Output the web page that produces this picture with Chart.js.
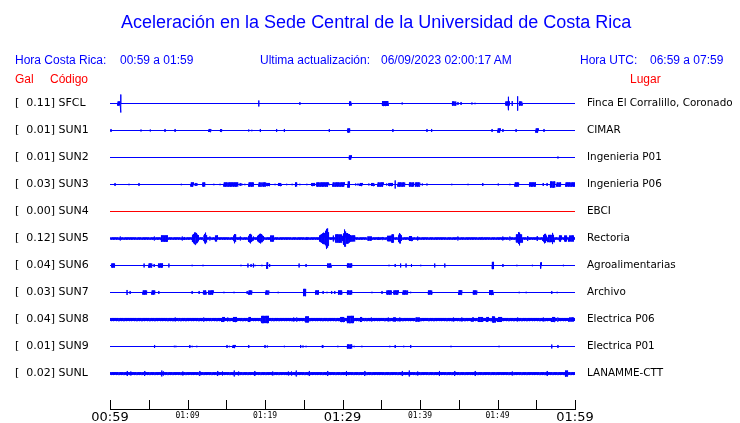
<!DOCTYPE html>
<html>
<head>
<meta charset="utf-8">
<script src="https://cdn.jsdelivr.net/npm/chart.js@4/dist/chart.umd.min.js"></script>
<style>
  body { margin: 0; background: #fff; }
  #wrap { position: relative; width: 740px; height: 423px; }
  canvas { display: block; }
  .t { position: absolute; white-space: pre; font-family: "Liberation Sans", Arial, sans-serif; }
  .blue { color: #0000ff; }
  .red { color: #ff0000; }
  .hd { font-size: 12px; line-height: 14px; }
</style>
</head>
<body>
<div id="wrap">
  <canvas id="myChart" width="740" height="423"></canvas>
  <div class="t blue" style="left:121px;top:12px;font-size:18px;line-height:20px;">Aceleración en la Sede Central de la Universidad de Costa Rica</div>
  <div class="t blue hd" style="left:15px;top:53px;">Hora Costa Rica:</div>
  <div class="t blue hd" style="left:120px;top:53px;">00:59 a 01:59</div>
  <div class="t blue hd" style="left:260px;top:53px;">Ultima actualización:</div>
  <div class="t blue hd" style="left:381px;top:53px;">06/09/2023 02:00:17 AM</div>
  <div class="t blue hd" style="left:580px;top:53px;">Hora UTC:</div>
  <div class="t blue hd" style="left:650px;top:53px;">06:59 a 07:59</div>
  <div class="t red hd" style="left:15px;top:72px;">Gal</div>
  <div class="t red hd" style="left:50px;top:72px;">Código</div>
  <div class="t red hd" style="left:630px;top:72px;">Lugar</div>
</div>
<script>
// station info
const codes  = ['SFCL','SUN1','SUN2','SUN3','SUN4','SUN5','SUN6','SUN7','SUN8','SUN9','SUNL'];
const peaks  = [0.11, 0.01, 0.01, 0.03, 0.00, 0.12, 0.04, 0.03, 0.04, 0.01, 0.02];
const places = ['Finca El Corralillo, Coronado','CIMAR','Ingenieria P01','Ingenieria P06','EBCI','Rectoria',
                'Agroalimentarias','Archivo','Electrica P06','Electrica P01','LANAMME-CTT'];
const timeLabels = ['00:59','01:09','01:19','01:29','01:39','01:49','01:59'];
// background noise (Gal, half width of the band)
const baseNoise = [0, 0, 0, 0, 0, 0.011, 0, 0, 0.017, 0, 0.014];

// events: [minute after 00:59, amplitude Gal, duration minutes]
const sfcl = [[1.4,.1,0],[1.2,.022,.4],[19.2,.033,0],[24.5,.015,0],[31.0,.022,.25],[35.5,.027,.8],[37.7,.011,0],
  [44.4,.022,.5],[44.9,.017,0],[45.3,.017,0],[46.7,.011,0],[47.1,.008,0],[51.4,.075,0],[51.3,.022,.5],
  [51.9,.027,0],[52.6,.08,0],[53.0,.022,.4]];
const sun1 = [[0.13,.017,0],[4.0,.011,0],[5.2,.011,0],[7.1,.017,0],[8.4,.017,0],[12.9,.017,.3],[14.3,.015,.2],
  [17.9,.011,0],[18.3,.008,0],[19.4,.017,0],[21.5,.017,0],[22.5,.017,0],[28.3,.017,0],[30.8,.022,.3],
  [36.5,.017,0],[40.9,.017,0],[41.5,.017,0],[49.3,.017,0],[50.2,.022,.3],[50.7,.017,0],[52.4,.017,0],
  [55.1,.022,.3],[56.0,.017,0]];
const sun2 = [[31.0,.022,.3],[57.8,.011,0]];
const sun3 = [[0.65,.017,0],[2.45,.008,0],[3.74,.017,0],[9.2,.008,0],[10.6,.022,.3],[11.0,.017,0],[11.2,.017,0],
  [12.1,.022,.3],[13.4,.008,0],[14.2,.008,0],[15.6,.022,1.8],[16.8,.017,0],[17.0,.011,0],[17.4,.008,0],
  [18.2,.022,.6],[19.4,.022,.4],[19.9,.022,.4],[20.4,.017,.4],[21.3,.008,0],[21.9,.017,.4],[22.8,.008,0],
  [23.5,.008,0],[24.0,.022,.2],[24.5,.008,0],[25.4,.008,0],[26.2,.017,.4],[27.4,.022,1.5],[28.3,.008,0],
  [29.5,.022,1.5],[30.8,.033,.2],[31.7,.011,0],[32.0,.011,0],[32.4,.017,.3],[33.4,.011,0],[33.9,.017,.4],
  [34.9,.022,.7],[35.7,.011,0],[36.2,.017,.5],[36.8,.045,0],[37.6,.022,.9],[38.9,.022,.6],[39.7,.022,.6],
  [40.3,.011,0],[40.9,.011,0],[44.1,.008,0],[46.2,.008,0],[48.1,.017,0],[50.1,.011,0],[51.6,.008,0],
  [52.5,.022,.5],[54.5,.022,.8],[55.9,.017,0],[56.4,.017,0],[57.1,.033,.6],[57.9,.022,.5],[59.4,.022,1.2]];
const sun4 = [];
const sun5 = [[1.3,.022,0],[5.7,.022,0],[7.0,.035,.8],[9.3,.022,0],[9.6,.017,0],[11.0,.07,.8],[12.3,.065,.4],
  [12.9,.022,0],[13.7,.033,.3],[16.1,.055,.3],[16.8,.022,0],[18.1,.055,.5],[18.5,.022,0],[19.4,.055,.8],
  [20.9,.033,.4],[25.4,.017,0],[28.0,.12,.5],[27.6,.065,1.2],[28.8,.033,0],[29.5,.045,.8],[30.3,.1,.4],
  [30.6,.06,1.2],[31.3,.033,.6],[33.5,.022,.5],[34.6,.017,0],[35.2,.017,0],[36.2,.03,.8],[36.5,.045,.3],
  [37.4,.06,.4],[38.8,.027,.4],[39.7,.022,0],[44.9,.022,0],[48.0,.017,0],[50.7,.022,0],[51.6,.022,0],
  [52.8,.08,.3],[52.8,.045,.8],[53.9,.027,0],[55.1,.027,0],[56.1,.055,.5],[57.1,.07,.2],[56.9,.04,.8],
  [58.1,.033,.3],[58.8,.033,.3],[59.5,.033,.6]];
const sun6 = [[0.4,.022,.4],[4.4,.022,0],[5.2,.022,.4],[5.7,.017,0],[6.5,.022,.6],[7.6,.022,0],[10.6,.008,0],
  [12.0,.008,0],[16.9,.008,0],[17.8,.022,0],[18.2,.017,0],[18.5,.022,0],[18.7,.008,0],[19.6,.008,0],
  [20.3,.035,.15],[20.6,.017,0],[24.4,.022,0],[25.3,.017,0],[28.3,.022,.5],[30.9,.022,.6],[36.0,.008,0],
  [36.8,.017,0],[37.5,.022,0],[38.2,.022,0],[38.9,.017,0],[40.1,.008,0],[41.9,.022,0],[43.2,.022,0],
  [49.4,.04,.2],[50.7,.017,0],[52.5,.008,0],[54.5,.008,0],[55.6,.033,.15],[58.5,.008,0]];
const sun7 = [[2.2,.028,0],[2.6,.017,0],[4.5,.022,.5],[5.6,.022,.4],[6.3,.017,0],[10.6,.017,0],[11.5,.017,0],
  [12.2,.022,.4],[13.0,.022,.6],[14.7,.008,0],[16.0,.008,0],[17.7,.017,0],[18.1,.022,.4],[20.3,.022,.4],
  [21.7,.008,0],[25.1,.04,.3],[26.7,.022,.4],[27.5,.017,0],[28.0,.008,0],[28.6,.017,0],[29.0,.017,0],
  [29.7,.022,.5],[30.9,.022,.6],[33.8,.008,0],[35.1,.017,0],[36.0,.022,.6],[36.9,.022,.6],[38.1,.022,.6],
  [38.8,.008,0],[41.3,.022,.5],[45.2,.025,.4],[47.1,.022,.5],[49.2,.027,.5],[52.8,.008,0],[53.7,.008,0],
  [57.0,.017,0],[57.7,.008,0]];
const sun8 = [[8.4,.022,0],[8.9,.011,0],[12.1,.022,0],[13.2,.011,0],[14.6,.028,.3],[15.2,.022,0],[16.1,.028,.4],
  [18.0,.028,.2],[20.0,.04,.9],[20.9,.011,0],[21.7,.011,0],[23.7,.022,0],[24.1,.022,0],[25.4,.033,.4],
  [28.6,.011,0],[30.0,.028,.5],[31.0,.04,.8],[32.4,.028,.2],[32.9,.011,0],[33.7,.022,0],[35.1,.011,0],
  [35.9,.022,0],[36.7,.022,.3],[37.4,.022,0],[39.7,.022,.5],[40.8,.011,0],[42.5,.011,0],[44.3,.022,0],
  [45.4,.022,0],[46.8,.022,.2],[47.8,.028,.6],[48.7,.028,.2],[49.5,.033,.4],[50.3,.028,.5],[52.6,.022,0],
  [54.6,.011,0],[55.9,.022,0],[57.2,.028,.4],[57.8,.022,0],[59.5,.022,.6]];
const sun9 = [[5.7,.017,0],[5.8,.011,0],[8.3,.008,0],[8.5,.008,0],[10.3,.017,0],[10.6,.008,0],[11.2,.008,0],
  [15.1,.017,0],[15.4,.008,0],[16.0,.017,.3],[17.9,.017,0],[20.0,.017,0],[20.3,.011,0],[22.5,.008,0],
  [24.6,.017,0],[24.9,.011,0],[25.3,.008,0],[27.4,.017,0],[27.5,.011,0],[29.4,.008,0],[30.9,.022,.6],
  [31.5,.008,0],[32.5,.008,0],[36.1,.008,0],[36.8,.017,0],[37.9,.008,0],[38.8,.017,0],[44.0,.008,0],
  [50.2,.008,0],[57.0,.022,0],[57.8,.017,0]];
const sunl = [[2.2,.028,0],[2.7,.022,0],[4.5,.028,0],[6.7,.033,0],[6.9,.022,0],[9.4,.022,0],[11.6,.028,0],
  [13.9,.028,0],[14.5,.022,0],[16.0,.033,0],[16.6,.022,0],[18.7,.028,0],[21.0,.022,0],[23.0,.022,0],
  [23.4,.022,0],[24.0,.033,0],[25.7,.028,0],[28.1,.028,0],[30.5,.028,0],[32.9,.028,0],[37.7,.028,0],
  [38.6,.033,0],[39.7,.022,0],[42.5,.028,0],[44.5,.028,0],[47.1,.028,0],[51.9,.022,0],[56.4,.028,0],
  [58.9,.033,.3]];
const events = [sfcl, sun1, sun2, sun3, sun4, sun5, sun6, sun7, sun8, sun9, sunl];

const spacing = 0.3;   // Gal between traces
const step = 0.04;     // minutes between zigzag points
const yMax = 0.2 + 0.5 / 90;
const yMin = yMax - 3.6;

function buildTrace(i) {
  const c = -spacing * i;
  const base = baseNoise[i];
  const pts = [{x: 0, y: c}];
  if (base > 0) {
    for (let k = 0; k * step <= 60; k++) pts.push({x: k * step, y: c + (k % 2 ? base : -base)});
  }
  events[i].forEach(([t, a, w]) => {
    if (!w) {
      pts.push({x: t, y: c}, {x: t, y: c + a}, {x: t, y: c - a}, {x: t, y: c});
    } else {
      const t0 = t - w / 2, t1 = t + w / 2;
      pts.push({x: t0, y: c});
      let k = 0;
      for (let s = t0; s <= t1; s += step, k++) {
        // big bursts get a spindle shape, small ones stay flat blocks
        const f = a > 0.045 ? 0.45 + 0.55 * (1 - Math.abs(s - t) / (w / 2)) : 1;
        pts.push({x: s, y: c + (k % 2 ? a : -a) * f});
      }
      pts.push({x: t1, y: c});
    }
  });
  pts.push({x: 60, y: c});
  pts.sort((p, q) => p.x - q.x);
  return pts;
}

const datasets = codes.map((code, i) => ({
  label: code,
  data: buildTrace(i),
  borderColor: code === 'SUN4' ? '#ff0000' : '#0000ff',
  borderWidth: 1,
  pointRadius: 0,
  tension: 0,
  fill: false
}));

function traceTicks(scale) {
  scale.ticks = codes.map((c, i) => ({value: -spacing * i}));
}

// little ticks going up from the time axis
const upTicks = {
  id: 'upTicks',
  afterDraw(chart) {
    const x = chart.scales.x, ctx = chart.ctx;
    const bottom = chart.chartArea.bottom;
    ctx.save();
    ctx.strokeStyle = '#000';
    ctx.lineWidth = 1;
    ctx.beginPath();
    for (let v = 0; v <= 60; v += 5) {
      const px = Math.round(x.getPixelForValue(v)) + 0.5;
      ctx.moveTo(px, bottom - 9);
      ctx.lineTo(px, bottom);
    }
    ctx.stroke();
    ctx.restore();
  }
};

const config = {
  type: 'line',
  data: {datasets},
  options: {
    responsive: false,
    animation: false,
    parsing: false,
    layout: {padding: {left: 15, right: 0, top: 85, bottom: 0}},
    plugins: {legend: {display: false}, tooltip: {enabled: false}},
    scales: {
      x: {
        type: 'linear', position: 'bottom', min: 0, max: 60,
        grid: {display: false, drawTicks: false},
        border: {display: true, color: '#000', width: 1},
        afterFit: s => { s.height = 14; },
        ticks: {
          stepSize: 5, autoSkip: false, maxRotation: 0, padding: 2, color: '#000',
          font: ctx => (ctx.tick && ctx.tick.value % 30 === 0)
            ? {family: 'DejaVu Sans', size: 13, lineHeight: 1}
            : {family: 'DejaVu Sans Mono', size: 8, lineHeight: 1.25},
          callback: v => (v % 10 === 0 ? timeLabels[v / 10] : '')
        }
      },
      y: {
        type: 'linear', position: 'left', min: yMin, max: yMax,
        grid: {display: false, drawTicks: false},
        border: {display: false},
        afterBuildTicks: traceTicks,
        afterFit: s => { s.width = 95; },
        ticks: {
          autoSkip: false, crossAlign: 'far', padding: 0, color: '#000',
          font: {family: 'DejaVu Sans', size: 11},
          callback: (v, i) => '[  ' + peaks[i].toFixed(2) + '] ' + codes[i]
        }
      },
      y2: {
        type: 'linear', position: 'right', min: yMin, max: yMax,
        grid: {display: false, drawTicks: true, tickLength: 12},
        border: {display: false},
        afterBuildTicks: traceTicks,
        afterFit: s => { s.width = 165; },
        ticks: {
          autoSkip: false, crossAlign: 'near', padding: 0, color: '#000',
          font: {family: 'DejaVu Sans', size: 10.4},
          callback: (v, i) => places[i]
        }
      }
    }
  },
  plugins: [upTicks]
};

const ctx = document.getElementById('myChart');
const myChart = new Chart(ctx, config);
</script>
</body>
</html>
